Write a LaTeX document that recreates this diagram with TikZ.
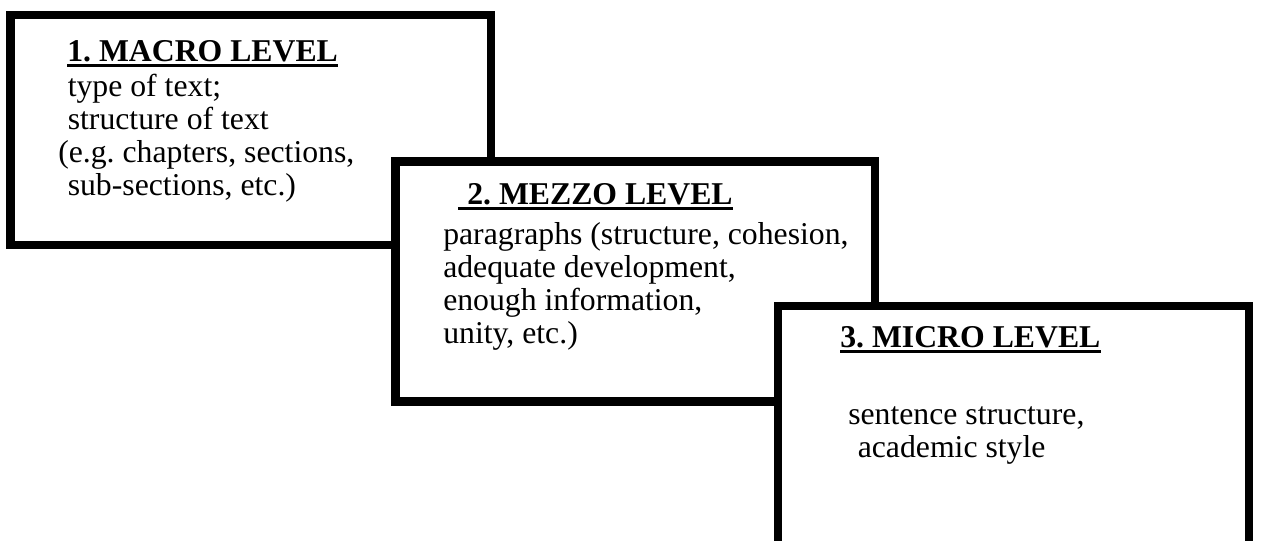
\documentclass[tikz,border=0pt]{standalone}
\usepackage{fontspec}
\setmainfont{Liberation Serif}
\frenchspacing
\usetikzlibrary{positioning,calc}
\tikzset{
  levelbox/.style={rectangle,draw=black,line width=6.4pt,fill=white,inner sep=0pt},
  levelhead/.style={font=\fontsize{23.8}{24.75}\selectfont\bfseries,inner sep=0pt,anchor=base west},
  leveltext/.style={font=\fontsize{23.8}{24.75}\selectfont,inner sep=0pt,anchor=north west,align=left},
  headline/.style={line width=2.2pt}
}

\begin{document}
\begin{tikzpicture}[x=0.75pt,y=-0.75pt]
    \useasboundingbox (0,0) rectangle (1263,541);
    \clip (0,0) rectangle (1263,541);
    % macro level
    \node[levelbox,minimum width=360.4pt,minimum height=172.5pt] (macro) at (250.75,130) {};
    \node[levelhead] (macrohead) at (67,62) {1. MACRO LEVEL};
    \draw[headline] ([yshift=-2.5pt]macrohead.base west) -- ([yshift=-2.5pt]macrohead.base east);
    \node[leveltext] (macrotext) at (58,74) {\hspace*{0.3em}type of text;\\\hspace*{0.3em}structure of text\\(e.g. chapters, sections,\\\hspace*{0.3em}sub-sections, etc.)};
    % mezzo level
    \node[levelbox,minimum width=359.6pt,minimum height=180pt] (mezzo) at (635.25,281.5) {};
    \node[levelhead] (mezzohead) at (467,205) {2. MEZZO LEVEL};
    \draw[headline] ([xshift=-6.75pt,yshift=-2.5pt]mezzohead.base west) -- ([yshift=-2.5pt]mezzohead.base east);
    \node[leveltext] (mezzotext) at (443,222) {paragraphs (structure, cohesion,\\adequate development,\\enough information,\\unity, etc.)};
    % micro level
    \node[levelbox,minimum width=353.25pt,minimum height=190.5pt] (micro) at (1013.5,433) {};
    \node[levelhead] (microhead) at (840,348) {3. MICRO LEVEL};
    \draw[headline] ([yshift=-2.5pt]microhead.base west) -- ([yshift=-2.5pt]microhead.base east);
    \node[leveltext] (microtext) at (848,406) {sentence structure,\\\hspace*{0.3em}academic style};
  \end{tikzpicture}
\end{document}
